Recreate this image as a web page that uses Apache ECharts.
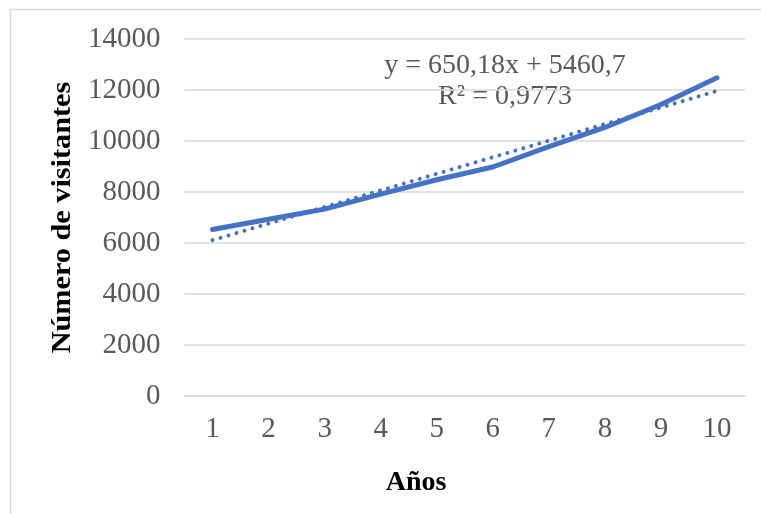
<!DOCTYPE html>
<html>
<head>
<meta charset="utf-8">
<script src="https://cdn.jsdelivr.net/npm/echarts@6/dist/echarts.min.js"></script>
<style>
html,body{margin:0;padding:0;background:#fff;}
#c{width:761px;height:514px;}
</style>
</head>
<body>
<div id="c"></div>
<script>
// Data
const years = ['1','2','3','4','5','6','7','8','9','10'];
const visitors = [6530, 6930, 7330, 7920, 8480, 8980, 9780, 10530, 11430, 12480];
// Linear trend endpoints (from y = 650,18x + 5460,7 at x=1 and x=10)
const trendValues = [6110.9, null, null, null, null, null, null, null, null, 11962.5];
const yTicks = [0, 2000, 4000, 6000, 8000, 10000, 12000, 14000];
const equationText = 'y = 650,18x + 5460,7';
const r2Text = 'R² = 0,9773';
const xAxisTitle = 'Años';
const yAxisTitle = 'Número de visitantes';

const FONT = "'Liberation Serif', 'Times New Roman', serif";
const chart = echarts.init(document.getElementById('c'), null, {renderer: 'canvas'});
chart.setOption({
  animation: false,
  backgroundColor: '#ffffff',
  grid: {left: 184.5, right: 16, top: 39, bottom: 118, containLabel: false},
  xAxis: {
    type: 'category',
    data: years,
    boundaryGap: true,
    axisLine: {show: true, lineStyle: {color: '#d9d9d9', width: 1.5}},
    axisTick: {show: false},
    axisLabel: {color: '#595959', fontFamily: FONT, fontSize: 29, margin: 19}
  },
  yAxis: {
    type: 'value',
    min: yTicks[0],
    max: yTicks[yTicks.length - 1],
    interval: yTicks[1] - yTicks[0],
    axisLine: {show: false},
    axisTick: {show: false},
    splitLine: {lineStyle: {color: '#d9d9d9', width: 1.5}},
    axisLabel: {color: '#595959', fontFamily: FONT, fontSize: 29, margin: 24,
                formatter: function (v) { return String(v); }}
  },
  series: [
    {
      type: 'line',
      data: visitors,
      symbol: 'none',
      lineStyle: {color: '#4472C4', width: 5, cap: 'round', join: 'round'},
      z: 3
    },
    {
      type: 'line',
      data: trendValues,
      connectNulls: true,
      symbol: 'none',
      lineStyle: {color: '#4472C4', width: 4, type: [0.01, 8.3], cap: 'round'},
      z: 4
    }
  ],
  graphic: [
    {type: 'rect', shape: {x: 10.5, y: 9.5, width: 800, height: 600},
     style: {fill: 'none', stroke: '#d9d9d9', lineWidth: 1.5}, z: -1, silent: true},
    {type: 'text', x: 505, y: 66,
     style: {text: equationText, font: '28px ' + FONT, fill: '#595959', textAlign: 'center', textVerticalAlign: 'middle'}},
    {type: 'text', x: 505, y: 97,
     style: {text: r2Text, font: '28px ' + FONT, fill: '#595959', textAlign: 'center', textVerticalAlign: 'middle'}},
    {type: 'text', x: 416, y: 483,
     style: {text: xAxisTitle, font: 'bold 28px ' + FONT, fill: '#000000', textAlign: 'center', textVerticalAlign: 'middle'}},
    {type: 'text', x: 63, y: 217.5, rotation: Math.PI / 2, scaleX: 1.08,
     style: {text: yAxisTitle, font: 'bold 28px ' + FONT, fill: '#000000', textAlign: 'center', textVerticalAlign: 'middle'}}
  ]
});
</script>
</body>
</html>
